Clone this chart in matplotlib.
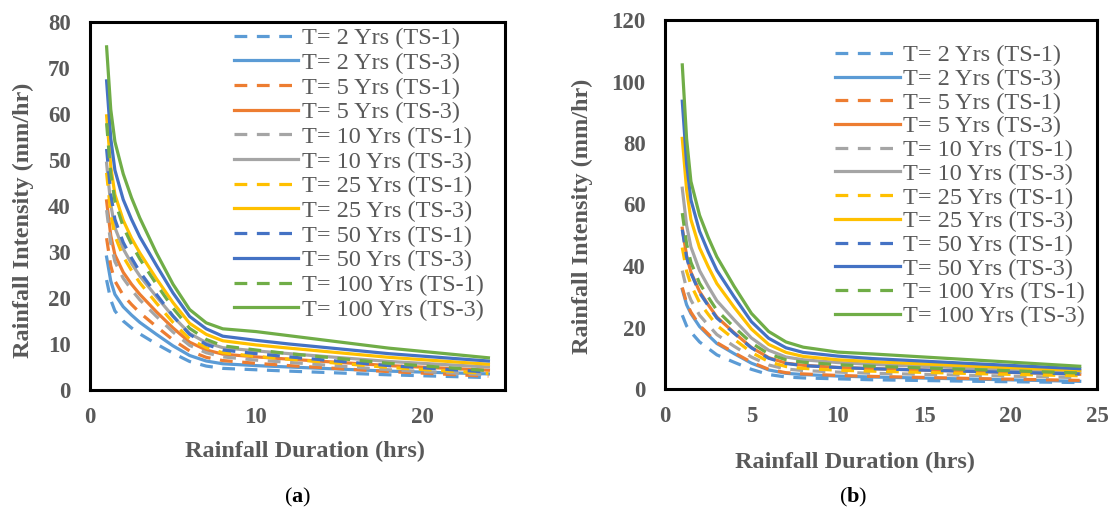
import matplotlib
matplotlib.use('Agg')
import matplotlib.pyplot as plt

####### Data (rainfall intensity in mm/hr for each duration in hrs)
durations = [1, 1.25, 1.5, 2, 2.5, 3, 4, 5, 6, 7, 8, 10, 12, 18, 24]

# panel (a)
a_2yr_ts1 = [23.9, 19.6, 17.2, 15.0, 13.5, 12.2, 10.0, 8.0, 6.2, 5.2, 4.7, 4.4, 4.1, 3.3, 2.7]
a_2yr_ts3 = [28.9, 23.7, 20.8, 18.1, 16.3, 14.7, 12.1, 9.6, 7.5, 6.3, 5.7, 5.3, 5.0, 4.1, 3.5]
a_5yr_ts1 = [33.0, 27.0, 23.7, 20.6, 18.6, 16.8, 13.8, 10.9, 8.5, 7.1, 6.4, 5.8, 5.3, 4.0, 3.0]
a_5yr_ts3 = [41.1, 33.6, 29.4, 25.6, 23.0, 20.8, 17.0, 13.5, 10.4, 8.7, 7.8, 7.2, 6.7, 5.3, 4.3]
a_10yr_ts1 = [39.1, 31.9, 27.9, 24.3, 21.8, 19.6, 16.0, 12.6, 9.7, 8.1, 7.2, 6.5, 6.0, 4.4, 3.3]
a_10yr_ts3 = [49.3, 40.3, 35.3, 30.7, 27.5, 24.8, 20.3, 16.0, 12.3, 10.3, 9.2, 8.5, 7.9, 6.2, 5.0]
a_25yr_ts1 = [47.2, 38.4, 33.5, 29.0, 26.0, 23.3, 18.9, 14.7, 11.1, 9.2, 8.1, 7.3, 6.7, 4.9, 3.6]
a_25yr_ts3 = [59.6, 48.6, 42.5, 36.9, 33.0, 29.8, 24.2, 19.0, 14.5, 12.1, 10.7, 9.8, 9.1, 7.1, 5.6]
a_50yr_ts1 = [52.4, 42.6, 37.1, 32.1, 28.7, 25.7, 20.8, 16.1, 12.1, 9.9, 8.7, 7.9, 7.2, 5.3, 3.9]
a_50yr_ts3 = [67.2, 54.7, 47.8, 41.4, 37.1, 33.3, 27.1, 21.1, 16.0, 13.3, 11.7, 10.8, 10.0, 7.9, 6.3]
a_100yr_ts1 = [58.0, 47.1, 41.1, 35.5, 31.7, 28.5, 23.0, 17.8, 13.4, 11.0, 9.6, 8.7, 7.9, 5.8, 4.2]
a_100yr_ts3 = [74.6, 61.0, 54.0, 47.0, 41.8, 37.4, 29.8, 23.0, 17.5, 14.6, 13.3, 12.7, 11.8, 9.1, 7.0]

# panel (b)
b_2yr_ts1 = [24.0, 20.5, 18.5, 15.3, 13.2, 11.1, 8.7, 6.4, 4.7, 3.9, 3.6, 3.3, 3.0, 2.5, 2.1]
b_2yr_ts3 = [32.4, 27.4, 24.5, 20.3, 17.5, 14.8, 11.5, 8.4, 6.2, 5.1, 4.7, 4.2, 3.9, 3.2, 2.5]
b_5yr_ts1 = [33.0, 28.0, 25.0, 20.7, 17.9, 15.1, 11.8, 8.7, 6.4, 5.3, 4.9, 4.4, 4.1, 3.4, 2.8]
b_5yr_ts3 = [52.3, 43.3, 38.0, 31.7, 27.4, 23.4, 18.3, 13.5, 10.2, 8.4, 7.7, 7.0, 6.6, 5.7, 4.8]
b_10yr_ts1 = [38.5, 32.5, 28.9, 24.0, 20.8, 17.7, 13.9, 10.4, 7.8, 6.5, 6.0, 5.5, 5.1, 4.4, 3.7]
b_10yr_ts3 = [65.3, 53.2, 46.2, 38.5, 33.4, 28.7, 22.5, 16.6, 12.6, 10.4, 9.5, 8.6, 8.0, 6.7, 5.5]
b_25yr_ts1 = [46.0, 38.3, 33.9, 28.1, 24.3, 20.7, 16.2, 11.9, 8.9, 7.3, 6.7, 6.1, 5.8, 5.0, 4.3]
b_25yr_ts3 = [81.5, 64.8, 55.1, 45.9, 39.8, 34.3, 26.6, 19.5, 14.5, 11.9, 10.6, 9.5, 8.9, 7.4, 6.0]
b_50yr_ts1 = [51.8, 42.9, 37.7, 31.3, 27.1, 23.1, 18.1, 13.4, 10.0, 8.3, 7.6, 7.0, 6.6, 5.7, 4.9]
b_50yr_ts3 = [93.6, 73.3, 61.5, 51.3, 44.6, 38.6, 30.0, 21.9, 16.5, 13.4, 11.9, 10.7, 9.9, 8.2, 6.6]
b_100yr_ts1 = [57.2, 47.2, 41.2, 34.4, 29.9, 25.6, 20.1, 15.0, 11.4, 9.5, 8.7, 7.9, 7.4, 6.3, 5.2]
b_100yr_ts3 = [105.4, 81.4, 67.5, 56.5, 49.3, 43.0, 33.4, 24.6, 18.7, 15.3, 13.6, 12.0, 11.4, 9.4, 7.4]

series_labels = ['T= 2 Yrs (TS-1)', 'T= 2 Yrs (TS-3)',
                 'T= 5 Yrs (TS-1)', 'T= 5 Yrs (TS-3)',
                 'T= 10 Yrs (TS-1)', 'T= 10 Yrs (TS-3)',
                 'T= 25 Yrs (TS-1)', 'T= 25 Yrs (TS-3)',
                 'T= 50 Yrs (TS-1)', 'T= 50 Yrs (TS-3)',
                 'T= 100 Yrs (TS-1)', 'T= 100 Yrs (TS-3)']

panel_a = [a_2yr_ts1, a_2yr_ts3, a_5yr_ts1, a_5yr_ts3, a_10yr_ts1, a_10yr_ts3,
           a_25yr_ts1, a_25yr_ts3, a_50yr_ts1, a_50yr_ts3, a_100yr_ts1, a_100yr_ts3]
panel_b = [b_2yr_ts1, b_2yr_ts3, b_5yr_ts1, b_5yr_ts3, b_10yr_ts1, b_10yr_ts3,
           b_25yr_ts1, b_25yr_ts3, b_50yr_ts1, b_50yr_ts3, b_100yr_ts1, b_100yr_ts3]

# office palette, one colour per return period
colors = ['#5B9BD5', '#ED7D31', '#A5A5A5', '#FFC000', '#4472C4', '#70AD47']

####### Data visualization:
plt.rcParams['font.family'] = ['Liberation Serif', 'DejaVu Serif']
plt.rcParams['mathtext.fontset'] = 'custom'
plt.rcParams['mathtext.rm'] = 'Liberation Serif'
plt.rcParams['mathtext.bf'] = 'Liberation Serif:bold'

grey_text = '#595959'


def plotPanel(ax, data, ymax, ystep, xticks, legend_anchor, legend_gap, ylabel_pos, xlabel_pos):
    for i in range(len(data)):
        col = colors[i // 2]
        if i % 2 == 0:
            ax.plot(durations, data[i], color=col, lw=2.3, dashes=(4, 3),
                    label=series_labels[i])
        else:
            ax.plot(durations, data[i], color=col, lw=2.3, label=series_labels[i])

    ax.set_xlim(0, 25)
    ax.set_ylim(0, ymax)
    ax.set_xticks(xticks)
    ax.set_yticks(range(0, ymax + 1, ystep))
    ax.tick_params(length=0, labelsize=16.5, labelcolor=grey_text)
    ax.tick_params(axis='x', pad=12)
    ax.tick_params(axis='y', pad=14)
    for lab in ax.get_xticklabels() + ax.get_yticklabels():
        lab.set_fontweight('bold')
    for sp in ax.spines.values():
        sp.set_linewidth(2.2)
        sp.set_color('black')

    ax.set_ylabel('Rainfall Intensity (mm/hr)', fontsize=17.5, fontweight='bold',
                  color=grey_text)
    ax.set_xlabel('Rainfall Duration (hrs)', fontsize=17.5, fontweight='bold',
                  color=grey_text)
    ax.yaxis.set_label_coords(*ylabel_pos)
    ax.yaxis.label.set_va('center')
    ax.xaxis.set_label_coords(*xlabel_pos)
    ax.xaxis.label.set_va('center')

    leg = ax.legend(loc='upper left', bbox_to_anchor=legend_anchor, frameon=False,
                    fontsize=17.5, handlelength=2.65, handletextpad=0.15,
                    labelspacing=legend_gap, borderpad=0, borderaxespad=0)
    for t in leg.get_texts():
        t.set_color(grey_text)


fig = plt.figure(figsize=(11.14, 5.14), dpi=100)
ax_a = fig.add_axes([90 / 1114, 124 / 514, 415 / 1114, 368 / 514])
ax_b = fig.add_axes([665 / 1114, 125 / 514, 432 / 1114, 369 / 514])

plotPanel(ax_a, panel_a, 80, 10, [0, 10, 20], (0.347, 0.986), 0.11,
          ((23 - 90) / 415, (390 - 220) / 368), ((305 - 90) / 415, (390 - 451) / 368))
plotPanel(ax_b, panel_b, 120, 20, [0, 5, 10, 15, 20, 25], (0.394, 0.934), 0.07,
          ((582 - 665) / 432, (389 - 216) / 369), ((855 - 665) / 432, (389 - 462) / 369))

fig.text(298 / 1114, 1 - 497 / 514, r'($\mathbf{a}$)', fontsize=16, ha='center', va='center')
fig.text(853 / 1114, 1 - 497 / 514, r'($\mathbf{b}$)', fontsize=16, ha='center', va='center')

plt.savefig('out.png', dpi=100)
